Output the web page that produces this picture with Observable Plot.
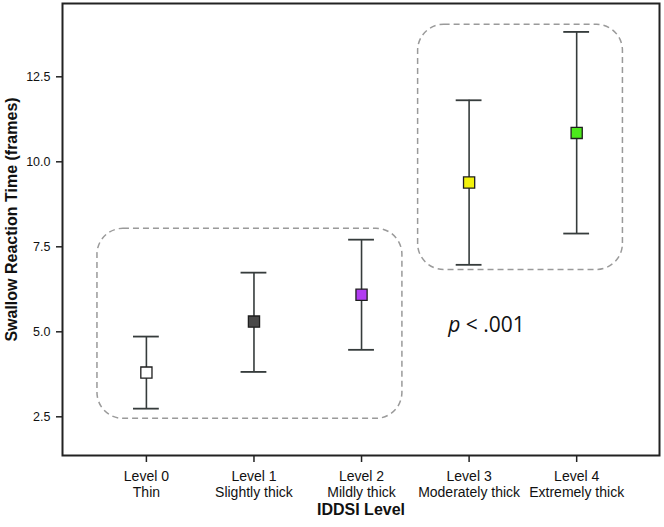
<!DOCTYPE html>
<html><head><meta charset="utf-8">
<script src="https://cdn.jsdelivr.net/npm/d3@7"></script>
<script src="https://cdn.jsdelivr.net/npm/@observablehq/plot@0.6"></script>
<style>body{margin:0;background:#fff;} svg{display:block;}</style>
</head><body><div id="chart"></div>
<script>
// ---- data ----
const levels = [0, 1, 2, 3, 4];
const levelNames = ["Level 0", "Level 1", "Level 2", "Level 3", "Level 4"];
const levelDescs = ["Thin", "Slightly thick", "Mildly thick", "Moderately thick", "Extremely thick"];
const means = [3.80, 5.30, 6.09, 9.39, 10.85];
const lower = [2.74, 3.82, 4.47, 6.97, 7.89];
const upper = [4.86, 6.74, 7.71, 11.81, 13.82];
const fills = ["#ffffff", "#4a4a4a", "#b23cf2", "#f2f20c", "#4ce81c"];
const yTicks = [2.5, 5.0, 7.5, 10.0, 12.5];
// group boxes (in level / value units)
const groupX1 = [-0.455, 2.526];
const groupX2 = [2.38, 4.43];
const groupY1 = [2.44, 6.82];
const groupY2 = [8.03, 14.03];
const pText = "p";
const pRest = " < .001";
const pX = [3.17];
const pY = [5.19];
const xTitle = "IDDSI Level";
const yTitle = "Swallow Reaction Time (frames)";

const rows = levels.map((l, i) => ({x: l, mean: means[i], lo: lower[i], hi: upper[i], fill: fills[i]}));
const groups = groupX1.map((_, i) => ({x1: groupX1[i], x2: groupX2[i], y1: groupY1[i], y2: groupY2[i]}));
const capHalf = 0.12;

const chart = Plot.plot({
  width: 664,
  height: 527,
  marginLeft: 62,
  marginRight: 5,
  marginTop: 3,
  marginBottom: 72,
  style: {fontFamily: "Liberation Sans, Arial, sans-serif", background: "#fff"},
  x: {type: "linear", domain: [-0.78, 4.77]},
  y: {domain: [1.362, 14.656]},
  marks: [
    Plot.rect(groups, {x1: "x1", x2: "x2", y1: "y1", y2: "y2", rx: 26, fill: "none",
      stroke: "#9a9a9a", strokeWidth: 1.5, strokeDasharray: "6,4"}),
    Plot.ruleX(rows, {x: "x", y1: "lo", y2: "hi", stroke: "#363c3c", strokeWidth: 1.6}),
    Plot.ruleY(rows, {y: "hi", x1: d => d.x - capHalf, x2: d => d.x + capHalf, stroke: "#363c3c", strokeWidth: 1.8}),
    Plot.ruleY(rows, {y: "lo", x1: d => d.x - capHalf, x2: d => d.x + capHalf, stroke: "#363c3c", strokeWidth: 1.8}),
    Plot.dot(rows, {x: "x", y: "mean", symbol: "square", r: 6.3, fill: "fill", stroke: "#1e1e1e", strokeWidth: 1.3}),
    Plot.axisY({ticks: yTicks, tickFormat: d3.format(".1f"), tickSize: 6, tickPadding: 6, fontSize: 12.5, label: null, stroke: "#222", strokeWidth: 1.5, fill: "#111"}),
    Plot.axisX({ticks: levels, tickFormat: i => levelNames[i] + "\n" + levelDescs[i], tickSize: 7, tickPadding: 7,
      fontSize: 14, lineHeight: 1.15, label: null, stroke: "#222", strokeWidth: 1.5, fill: "#111"}),
    Plot.frame({stroke: "#222", strokeWidth: 2}),
    Plot.text([yTitle], {frameAnchor: "left", rotate: -90, dx: -51, dy: -10, textAnchor: "middle", lineAnchor: "middle", text: d => d, fontSize: 16, fontWeight: "bold", fill: "#111"}),
    Plot.text([xTitle], {frameAnchor: "bottom", dy: 54, lineAnchor: "middle", text: d => d, fontSize: 16, fontWeight: "bold", fill: "#111"}),
    Plot.text(pX, {x: d => d, y: (d, i) => pY[i], text: () => pText, fontStyle: "italic", fontSize: 21, fontFamily: "Open Sans", textAnchor: "end", dx: -27, fill: "#111"}),
    Plot.text(pX, {x: d => d, y: (d, i) => pY[i], text: () => pRest, fontSize: 21, fontFamily: "Open Sans", textAnchor: "start", dx: -27, fill: "#111"})
  ]
});
document.getElementById("chart").appendChild(chart);
</script>
</body></html>
